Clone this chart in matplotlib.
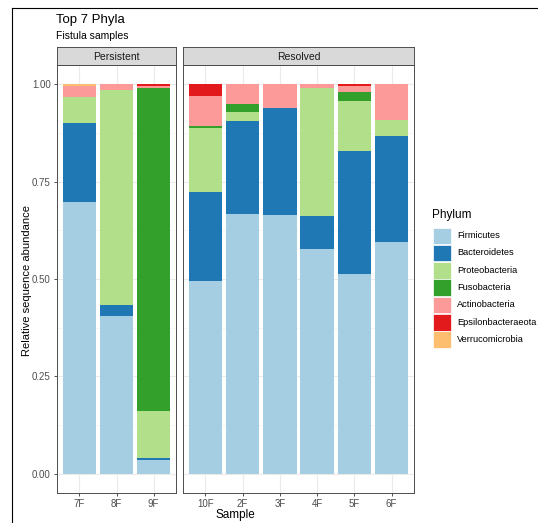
import matplotlib
matplotlib.use('Agg')
import matplotlib.pyplot as plt
import numpy as np
from matplotlib.patches import Rectangle
from matplotlib.lines import Line2D

plt.rcParams['font.family'] = ['Liberation Sans', 'DejaVu Sans']

# data
phyla = ['Firmicutes', 'Bacteroidetes', 'Proteobacteria', 'Fusobacteria',
         'Actinobacteria', 'Epsilonbacteraeota', 'Verrucomicrobia']
colours = ['#A6CEE3', '#1F78B4', '#B2DF8A', '#33A02C',
           '#FB9A99', '#E31A1C', '#FDBF6F']

persistent_samples = ['7F', '8F', '9F']
persistent_values = [
    [0.697, 0.406, 0.036],   # Firmicutes
    [0.204, 0.026, 0.003],   # Bacteroidetes
    [0.066, 0.555, 0.123],   # Proteobacteria
    [0.002, 0.000, 0.829],   # Fusobacteria
    [0.028, 0.013, 0.004],   # Actinobacteria
    [0.000, 0.000, 0.005],   # Epsilonbacteraeota
    [0.003, 0.000, 0.000],   # Verrucomicrobia
]

resolved_samples = ['10F', '2F', '3F', '4F', '5F', '6F']
resolved_values = [
    [0.496, 0.666, 0.664, 0.578, 0.512, 0.596],
    [0.227, 0.239, 0.276, 0.083, 0.318, 0.272],
    [0.166, 0.025, 0.000, 0.331, 0.128, 0.041],
    [0.004, 0.019, 0.000, 0.000, 0.023, 0.000],
    [0.078, 0.051, 0.060, 0.008, 0.015, 0.091],
    [0.029, 0.000, 0.000, 0.000, 0.004, 0.000],
    [0.000, 0.000, 0.000, 0.000, 0.000, 0.000],
]

W, H = 538, 523
fig = plt.figure(figsize=(W / 100, H / 100), dpi=100)


def px(x0, y0, x1, y1):
    # pixel box -> figure fraction rect
    return [x0 / W, 1 - y1 / H, (x1 - x0) / W, (y1 - y0) / H]


def facet(rect, strip_rect, samples, values, label, show_y):
    ax = fig.add_axes(rect)
    x = np.arange(1, len(samples) + 1)
    bottom = np.zeros(len(samples))
    for vals, col in zip(values, colours):
        ax.bar(x, vals, width=0.9, bottom=bottom, color=col, zorder=3)
        bottom += np.array(vals)
    ax.set_xlim(0.4, len(samples) + 0.6)
    ax.set_ylim(-0.05, 1.05)
    ax.set_xticks(x)
    ax.set_xticklabels(samples)
    ax.set_yticks([0, 0.25, 0.5, 0.75, 1.0])
    ax.set_yticks([0.125, 0.375, 0.625, 0.875], minor=True)
    ax.grid(True, which='major', color='#EBEBEB', linewidth=0.8, zorder=0)
    ax.grid(True, which='minor', axis='y', color='#F2F2F2', linewidth=0.5, zorder=0)
    ax.tick_params(axis='both', which='major', length=2.5, width=0.6,
                   color='#333333', labelsize=7, labelcolor='#4D4D4D', pad=2)
    ax.tick_params(which='minor', length=0)
    if show_y:
        ax.set_yticklabels(['0.00', '0.25', '0.50', '0.75', '1.00'])
    else:
        ax.tick_params(axis='y', left=False, labelleft=False)
    for s in ax.spines.values():
        s.set_color('#4D4D4D')
        s.set_linewidth(0.7)

    # facet strip
    st = fig.add_axes(strip_rect)
    st.set_facecolor('#D9D9D9')
    st.set_xticks([])
    st.set_yticks([])
    for s in st.spines.values():
        s.set_color('#4D4D4D')
        s.set_linewidth(0.7)
    st.text(0.5, 0.45, label, ha='center', va='center', fontsize=7.5,
            color='#1A1A1A', transform=st.transAxes)
    return ax


ax1 = facet(px(57, 65, 176, 493), px(57, 47, 176, 65),
            persistent_samples, persistent_values, 'Persistent', True)
ax2 = facet(px(183, 65, 414, 493), px(183, 47, 414, 65),
            resolved_samples, resolved_values, 'Resolved', False)

# titles and axis labels
fig.text(56 / W, 1 - 20 / H, 'Top 7 Phyla', fontsize=9.5, va='center', ha='left')
fig.text(56 / W, 1 - 36 / H, 'Fistula samples', fontsize=7.5, va='center', ha='left')
fig.text(27 / W, 1 - 280 / H, 'Relative sequence abundance', rotation=90,
         fontsize=8, va='center', ha='center')
fig.text(235 / W, 1 - 515 / H, 'Sample', fontsize=8.5, va='center', ha='center')

# legend
fig.text(432 / W, 1 - 215 / H, 'Phylum', fontsize=8.5, va='center', ha='left')
for i, (name, col) in enumerate(zip(phyla, colours)):
    y0 = 227.5 + i * 17.3
    fig.add_artist(Rectangle((432.5 / W, 1 - (y0 + 16.5) / H), 18 / W, 16.5 / H,
                             transform=fig.transFigure, facecolor=col,
                             edgecolor='white', linewidth=0.5))
    fig.text(457 / W, 1 - (y0 + 8.2) / H, name, fontsize=6.7, va='center', ha='left')

# screenshot frame lines
fig.add_artist(Line2D([12 / W, 12 / W], [0, 1 - 8 / H], transform=fig.transFigure,
                      color='black', linewidth=0.8))
fig.add_artist(Line2D([12 / W, 1], [1 - 8 / H, 1 - 8 / H], transform=fig.transFigure,
                      color='black', linewidth=0.8))

fig.savefig('out.png', dpi=100)
